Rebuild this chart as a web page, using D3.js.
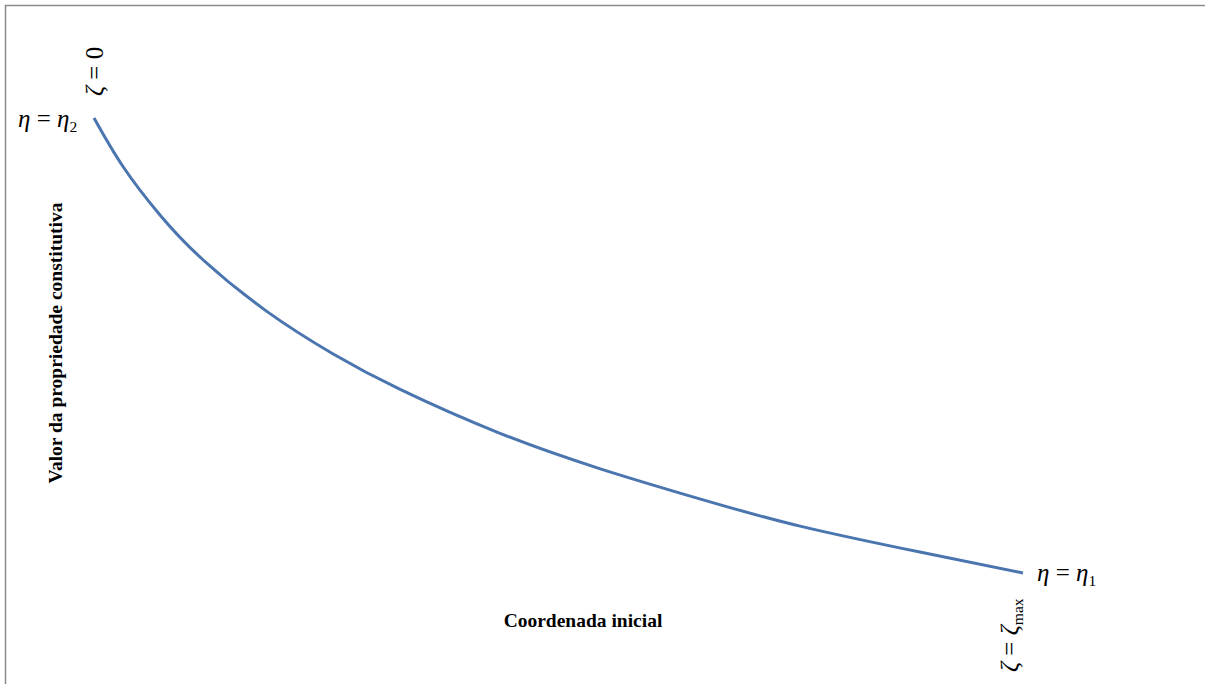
<!DOCTYPE html>
<html>
<head>
<meta charset="utf-8">
<script src="https://cdn.jsdelivr.net/npm/d3@7"></script>
<style>
  html, body { margin: 0; padding: 0; background: #fff; }
  svg { display: block; }
  .math { font-family: "Liberation Serif", "DejaVu Serif", serif; fill: #000; }
  .title { font-family: "Liberation Serif", serif; font-weight: bold; font-size: 19.5px; fill: #000; }
</style>
</head>
<body>
<svg id="chart" width="1205" height="684"></svg>
<script>
// Normalised initial coordinate ζ/ζmax and constitutive property (η-η1)/(η2-η1)
const zeta = [0, 0.031, 0.071, 0.117, 0.186, 0.257, 0.329, 0.437, 0.545, 0.652, 0.760, 0.889, 1.0];
const eta  = [1.0, 0.894, 0.787, 0.689, 0.575, 0.482, 0.404, 0.307, 0.229, 0.163, 0.103, 0.046, 0.0];

const axisTitleX = "Coordenada inicial";
const axisTitleY = "Valor da propriedade constitutiva";

const svg = d3.select("#chart");
const W = 1205, H = 684;

// Chart frame (only top and left edges are visible)
svg.append("path")
  .attr("d", `M5.5,${H} L5.5,5.5 L${W},5.5`)
  .attr("fill", "none")
  .attr("stroke", "#8a8a8a")
  .attr("stroke-width", 1.5);

const x = d3.scaleLinear().domain([0, 1]).range([94, 1023]);
const y = d3.scaleLinear().domain([0, 1]).range([573, 118]);

const pts = zeta.map((z, i) => [z, eta[i]]);
const line = d3.line()
  .x(d => x(d[0]))
  .y(d => y(d[1]))
  .curve(d3.curveNatural);

svg.append("path")
  .datum(pts)
  .attr("d", line)
  .attr("fill", "none")
  .attr("stroke", "#4a75ae")
  .attr("stroke-width", 3)
  .attr("stroke-linecap", "butt");

// Endpoint annotations
function mathLabel(g, parts, size) {
  const t = g.append("text").attr("class", "math").attr("font-size", size);
  parts.forEach(p => {
    const ts = t.append("tspan").text(p.t);
    if (p.i) ts.attr("font-style", "italic");
    if (p.sub) ts.attr("font-size", size * 0.62).attr("dy", size * 0.2);
  });
  return t;
}

const FS = 25;

// η = η2 at the start of the curve
const gEta2 = svg.append("g").attr("transform", `translate(18,${y(1) + 9})`);
mathLabel(gEta2, [{t: "η", i: true}, {t: " = "}, {t: "η", i: true}, {t: "2", sub: true}], FS);

// ζ = 0, written vertically
const gZ0 = svg.append("g").attr("transform", `translate(${x(0) + 9},96) rotate(-90)`);
mathLabel(gZ0, [{t: "ζ", i: true}, {t: " = "}, {t: "0"}], FS);

// η = η1 at the end of the curve
const gEta1 = svg.append("g").attr("transform", `translate(${x(1) + 14},${y(0) + 8})`);
mathLabel(gEta1, [{t: "η", i: true}, {t: " = "}, {t: "η", i: true}, {t: "1", sub: true}], FS);

// ζ = ζmax, written vertically
const gZmax = svg.append("g").attr("transform", `translate(${x(1) - 5},672) rotate(-90)`);
mathLabel(gZmax, [{t: "ζ", i: true}, {t: " = "}, {t: "ζ", i: true}, {t: "max", sub: true}], FS);

// Axis titles
svg.append("text")
  .attr("class", "title")
  .attr("x", 583).attr("y", 627)
  .attr("text-anchor", "middle")
  .text(axisTitleX);

svg.append("text")
  .attr("class", "title")
  .attr("transform", "translate(62,343) rotate(-90)")
  .attr("text-anchor", "middle")
  .text(axisTitleY);
</script>
</body>
</html>
